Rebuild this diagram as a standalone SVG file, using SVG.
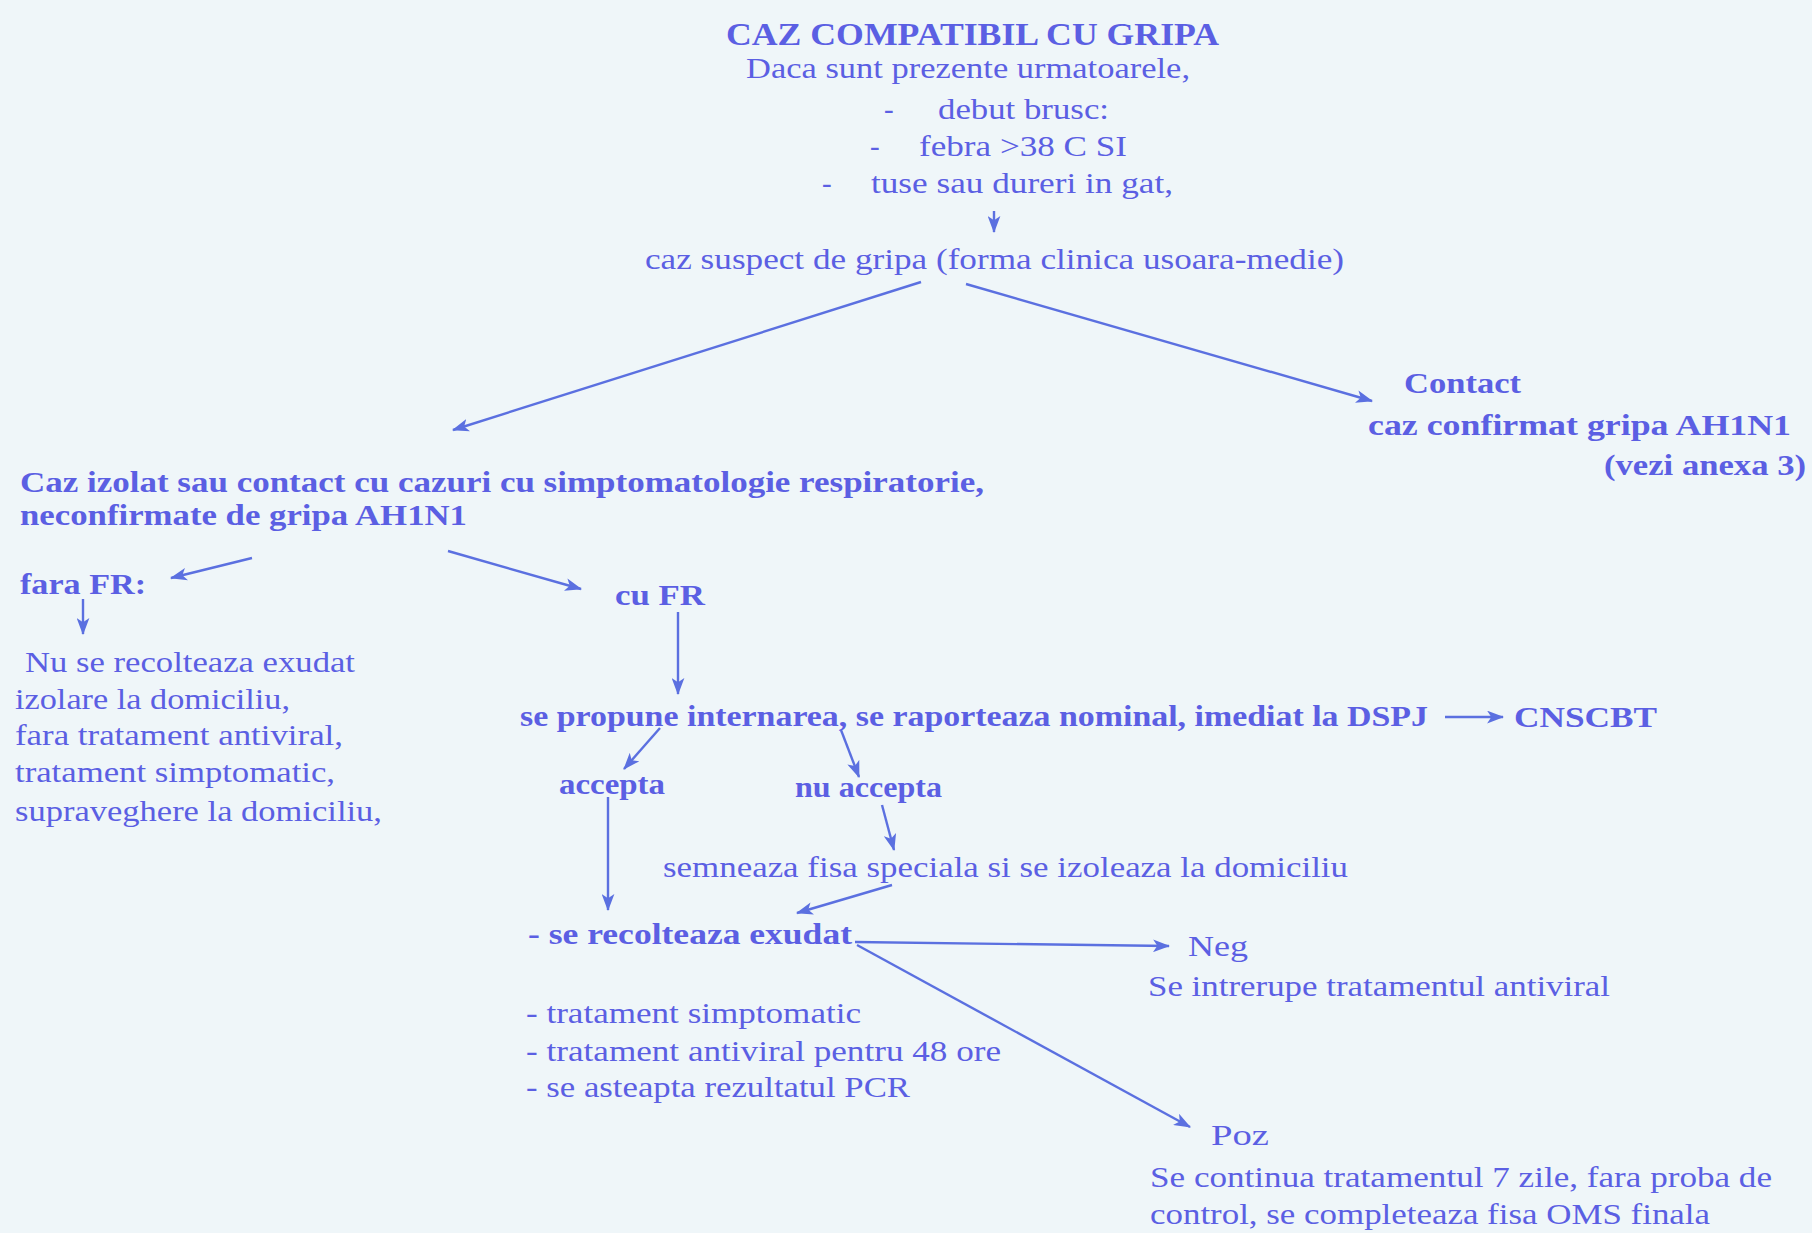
<svg xmlns="http://www.w3.org/2000/svg" width="1812" height="1233" viewBox="0 0 1812 1233">
<defs>
<style>
text{font-family:"Liberation Serif","Times New Roman",serif;fill:#5b5fe3;font-size:29px;}
.b{font-weight:bold;}
.t{font-size:32px;font-weight:bold;}
.c line{stroke:#5b70e0;stroke-width:2.4;fill:none;marker-end:url(#ah);}
</style>
<marker id="ah" viewBox="0 0 16 12" refX="15" refY="6" markerWidth="17" markerHeight="13" markerUnits="userSpaceOnUse" orient="auto">
<path d="M0,0 L16,6 L0,12 L4,6 Z" fill="#5b70e0"/>
</marker>
</defs>
<rect width="1812" height="1233" fill="#eff6f9"/>
<g id="n-header">
<text class="t" x="726" y="45" textLength="493" lengthAdjust="spacingAndGlyphs">CAZ COMPATIBIL CU GRIPA</text>
<text x="746" y="78" textLength="444" lengthAdjust="spacingAndGlyphs">Daca sunt prezente urmatoarele,</text>
<text x="884" y="119">-</text>
<text x="938" y="119" textLength="171" lengthAdjust="spacingAndGlyphs">debut brusc:</text>
<text x="870" y="156">-</text>
<text x="919" y="156" textLength="208" lengthAdjust="spacingAndGlyphs">febra &gt;38 C SI</text>
<text x="822" y="193">-</text>
<text x="871" y="193" textLength="302" lengthAdjust="spacingAndGlyphs">tuse sau dureri in gat,</text>
</g>
<g id="n-suspect">
<text x="645" y="269" textLength="699" lengthAdjust="spacingAndGlyphs">caz suspect de gripa (forma clinica usoara-medie)</text>
</g>
<g id="n-contact">
<text class="b" x="1404" y="393" textLength="117" lengthAdjust="spacingAndGlyphs">Contact</text>
<text class="b" x="1368" y="435" textLength="423" lengthAdjust="spacingAndGlyphs">caz confirmat gripa  AH1N1</text>
<text class="b" x="1604" y="475" textLength="202" lengthAdjust="spacingAndGlyphs">(vezi anexa 3)</text>
</g>
<g id="n-izolat">
<text class="b" x="20" y="492" textLength="964" lengthAdjust="spacingAndGlyphs">Caz izolat sau contact cu cazuri cu simptomatologie respiratorie,</text>
<text class="b" x="20" y="525" textLength="447" lengthAdjust="spacingAndGlyphs">neconfirmate de gripa AH1N1</text>
</g>
<g id="n-faraFR">
<text class="b" x="20" y="594" textLength="126" lengthAdjust="spacingAndGlyphs">fara FR:</text>
</g>
<g id="n-faraFR-actions">
<text x="25" y="672" textLength="330" lengthAdjust="spacingAndGlyphs">Nu se recolteaza exudat</text>
<text x="15" y="709" textLength="275" lengthAdjust="spacingAndGlyphs">izolare la domiciliu,</text>
<text x="15" y="745" textLength="328" lengthAdjust="spacingAndGlyphs">fara tratament antiviral,</text>
<text x="15" y="782" textLength="320" lengthAdjust="spacingAndGlyphs">tratament simptomatic,</text>
<text x="15" y="821" textLength="367" lengthAdjust="spacingAndGlyphs">supraveghere la domiciliu,</text>
</g>
<g id="n-cuFR">
<text class="b" x="615" y="605" textLength="90" lengthAdjust="spacingAndGlyphs">cu FR</text>
</g>
<g id="n-internare">
<text class="b" x="520" y="726" textLength="908" lengthAdjust="spacingAndGlyphs">se propune internarea, se raporteaza nominal, imediat la DSPJ</text>
</g>
<g id="n-cnscbt">
<text class="b" x="1514" y="727" textLength="143" lengthAdjust="spacingAndGlyphs">CNSCBT</text>
</g>
<g id="n-accepta">
<text class="b" x="559" y="794" textLength="106" lengthAdjust="spacingAndGlyphs">accepta</text>
</g>
<g id="n-nuaccepta">
<text class="b" x="795" y="797" textLength="147" lengthAdjust="spacingAndGlyphs">nu accepta</text>
</g>
<g id="n-semneaza">
<text x="663" y="877" textLength="685" lengthAdjust="spacingAndGlyphs">semneaza fisa speciala si se izoleaza la domiciliu</text>
</g>
<g id="n-recolteaza">
<text class="b" x="528" y="944" textLength="324" lengthAdjust="spacingAndGlyphs">- se recolteaza exudat</text>
<text x="526" y="1023" textLength="335" lengthAdjust="spacingAndGlyphs">- tratament simptomatic</text>
<text x="526" y="1061" textLength="475" lengthAdjust="spacingAndGlyphs">- tratament antiviral pentru 48 ore</text>
<text x="526" y="1097" textLength="384" lengthAdjust="spacingAndGlyphs">- se asteapta rezultatul PCR</text>
</g>
<g id="n-neg">
<text x="1188" y="956" textLength="60" lengthAdjust="spacingAndGlyphs">Neg</text>
<text x="1148" y="996" textLength="462" lengthAdjust="spacingAndGlyphs">Se intrerupe tratamentul antiviral</text>
</g>
<g id="n-poz">
<text x="1211" y="1145" textLength="58" lengthAdjust="spacingAndGlyphs">Poz</text>
<text x="1150" y="1187" textLength="622" lengthAdjust="spacingAndGlyphs">Se continua tratamentul 7 zile, fara proba de</text>
<text x="1150" y="1224" textLength="560" lengthAdjust="spacingAndGlyphs">control, se completeaza fisa OMS finala</text>
</g>
<g id="connectors" class="c">
<line x1="994" y1="211" x2="994" y2="232"/>
<line x1="921" y1="282" x2="453" y2="430"/>
<line x1="966" y1="284" x2="1372" y2="401"/>
<line x1="252" y1="558" x2="171" y2="578"/>
<line x1="448" y1="551" x2="581" y2="589"/>
<line x1="83" y1="599" x2="83" y2="634"/>
<line x1="678" y1="612" x2="678" y2="694"/>
<line x1="1445" y1="717" x2="1503" y2="717"/>
<line x1="660" y1="728" x2="624" y2="769"/>
<line x1="841" y1="730" x2="859" y2="777"/>
<line x1="882" y1="805" x2="894" y2="850"/>
<line x1="608" y1="797" x2="608" y2="910"/>
<line x1="892" y1="885" x2="797" y2="913"/>
<line x1="855" y1="942" x2="1169" y2="946"/>
<line x1="857" y1="945" x2="1190" y2="1127"/>
</g>
</svg>
